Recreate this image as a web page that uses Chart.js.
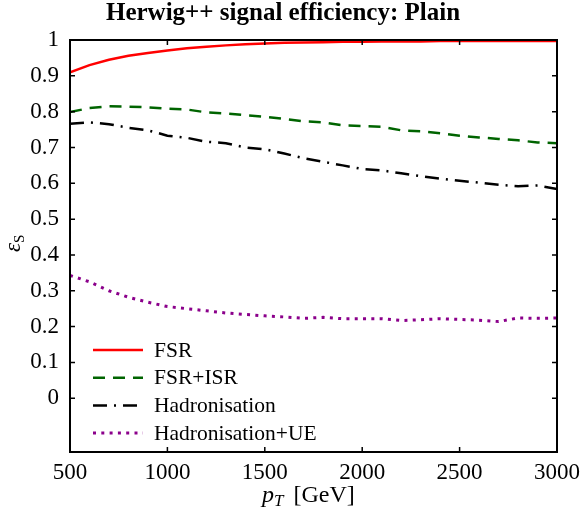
<!DOCTYPE html>
<html>
<head>
<meta charset="utf-8">
<script src="https://cdn.jsdelivr.net/npm/chart.js@4/dist/chart.umd.min.js"></script>
<style>
  body { margin: 0; background: #fff; }
  canvas { display: block; }
</style>
</head>
<body>
<canvas id="eff" width="583" height="512"></canvas>
<script>
// pT values (GeV)
const pt = [500, 600, 700, 800, 900, 1000, 1100, 1200, 1300, 1400, 1500, 1600, 1700,
  1800, 1900, 2000, 2100, 2200, 2300, 2400, 2500, 2600, 2700, 2800, 2900, 3000];

// efficiencies
const fsr = [0.910, 0.930, 0.945, 0.956, 0.964, 0.971, 0.977, 0.981, 0.985, 0.988, 0.990, 0.992, 0.993,
  0.994, 0.995, 0.995, 0.996, 0.996, 0.996, 0.997, 0.997, 0.997, 0.997, 0.997, 0.997, 0.997];
const fsrIsr = [0.799, 0.810, 0.815, 0.814, 0.812, 0.808, 0.806, 0.798, 0.795, 0.790, 0.786, 0.780, 0.773,
  0.770, 0.762, 0.760, 0.758, 0.748, 0.745, 0.740, 0.733, 0.728, 0.724, 0.720, 0.714, 0.712];
const hadr = [0.766, 0.770, 0.765, 0.755, 0.748, 0.733, 0.727, 0.716, 0.712, 0.700, 0.695, 0.683, 0.670,
  0.660, 0.650, 0.640, 0.636, 0.628, 0.620, 0.613, 0.607, 0.602, 0.596, 0.592, 0.594, 0.584];
const hadrUe = [0.343, 0.325, 0.300, 0.282, 0.268, 0.256, 0.250, 0.244, 0.238, 0.234, 0.230, 0.227, 0.223,
  0.226, 0.222, 0.222, 0.222, 0.217, 0.219, 0.222, 0.220, 0.218, 0.214, 0.224, 0.223, 0.224];

const xTicks = [500, 1000, 1500, 2000, 2500, 3000];
const yTicks = [0, 0.1, 0.2, 0.3, 0.4, 0.5, 0.6, 0.7, 0.8, 0.9, 1];

const serif = '"Liberation Serif", "Times New Roman", serif';

const series = [
  { label: 'FSR', data: fsr, color: '#ff0000', dash: [], width: 2.5 },
  { label: 'FSR+ISR', data: fsrIsr, color: '#006400', dash: [12, 8], width: 2.5 },
  { label: 'Hadronisation', data: hadr, color: '#000000', dash: [14, 7, 2, 7], width: 2.5 },
  { label: 'Hadronisation+UE', data: hadrUe, color: '#8b008b', dash: [3, 5.3], width: 3 }
];

// frame, inward ticks, legend and titles
const decor = {
  id: 'decor',
  afterDatasetsDraw(chart) {
    const { ctx, chartArea: a, scales: { x, y } } = chart;
    ctx.save();
    ctx.strokeStyle = '#000';
    ctx.lineWidth = 2;
    ctx.strokeRect(a.left, a.top, a.right - a.left, a.bottom - a.top);

    ctx.lineWidth = 1.5;
    ctx.beginPath();
    xTicks.forEach(v => {
      const px = x.getPixelForValue(v);
      ctx.moveTo(px, a.top); ctx.lineTo(px, a.top + 5);
      ctx.moveTo(px, a.bottom); ctx.lineTo(px, a.bottom - 5);
    });
    yTicks.forEach(v => {
      const py = y.getPixelForValue(v);
      ctx.moveTo(a.left, py); ctx.lineTo(a.left + 5, py);
      ctx.moveTo(a.right, py); ctx.lineTo(a.right - 5, py);
    });
    ctx.stroke();

    // legend
    ctx.font = '21.5px ' + serif;
    ctx.textBaseline = 'middle';
    ctx.fillStyle = '#000';
    series.forEach((s, i) => {
      const ly = 350 + i * 27.7;
      ctx.strokeStyle = s.color;
      ctx.lineWidth = s.width;
      ctx.setLineDash(s.dash);
      ctx.beginPath();
      ctx.moveTo(93, ly); ctx.lineTo(143, ly);
      ctx.stroke();
      ctx.setLineDash([]);
      ctx.fillText(s.label, 154, ly + 1);
    });

    // title
    ctx.textAlign = 'center';
    ctx.textBaseline = 'alphabetic';
    ctx.font = 'bold 25px ' + serif;
    ctx.fillText('Herwig++ signal efficiency: Plain', 283, 20);

    // x axis title: p_T [GeV]
    ctx.textAlign = 'left';
    ctx.font = 'italic 24px ' + serif;
    let tx = 262;
    const base = 502;
    ctx.fillText('p', tx, base);
    tx += ctx.measureText('p').width;
    ctx.font = 'italic 17px ' + serif;
    ctx.fillText('T', tx, base + 4);
    tx += ctx.measureText('T').width + 10;
    ctx.font = '24px ' + serif;
    ctx.fillText('[GeV]', tx, base);

    // y axis title: eps_S
    ctx.translate(20, 252);
    ctx.rotate(-Math.PI / 2);
    ctx.font = 'italic 23px ' + serif;
    ctx.fillText('ε', 0, 0);
    const ew = ctx.measureText('ε').width;
    ctx.font = '15px ' + serif;
    ctx.fillText('S', ew, 4);
    ctx.restore();
  }
};

new Chart(document.getElementById('eff'), {
  type: 'line',
  data: {
    datasets: series.map(s => ({
      label: s.label,
      data: pt.map((p, i) => ({ x: p, y: s.data[i] })),
      borderColor: s.color,
      borderWidth: s.width,
      borderDash: s.dash,
      pointRadius: 0,
      tension: 0,
      fill: false
    }))
  },
  options: {
    responsive: false,
    animation: false,
    layout: { padding: { top: 40, right: 26, left: 0, bottom: 0 } },
    plugins: { legend: { display: false }, tooltip: { enabled: false } },
    scales: {
      x: {
        type: 'linear',
        min: 500,
        max: 3000,
        afterBuildTicks: s => { s.ticks = xTicks.map(v => ({ value: v })); },
        afterFit: s => { s.height = 60; s.paddingLeft = 0; s.paddingRight = 0; },
        grid: { display: false, drawTicks: false },
        border: { color: '#000', width: 2 },
        ticks: {
          color: '#000',
          padding: 7,
          maxRotation: 0,
          font: { family: serif, size: 23 },
          callback: v => String(v)
        }
      },
      y: {
        min: -0.15,
        max: 1,
        afterBuildTicks: s => { s.ticks = yTicks.map(v => ({ value: v })); },
        afterFit: s => { s.width = 70; s.paddingTop = 0; s.paddingBottom = 0; },
        grid: { display: false, drawTicks: false },
        border: { color: '#000', width: 2 },
        ticks: {
          color: '#000',
          padding: 11,
          font: { family: serif, size: 23 },
          callback: v => (v === 0 || v === 1) ? String(v) : v.toFixed(1)
        }
      }
    }
  },
  plugins: [decor]
});
</script>
</body>
</html>
